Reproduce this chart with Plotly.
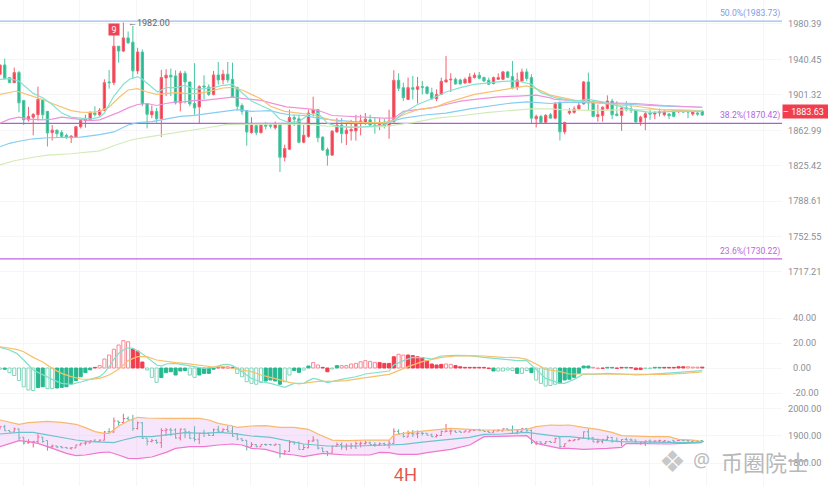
import math
import plotly.graph_objects as go

# ---- candles (prices)
body_top = [1934.3,1934.3,1920.3,1925.8,1925.8,1895.2,1877.9,1880.1,1896.3,1895.6,1883.4,1863.1,1863.1,1860.5,1857.6,1856.8,1866.8,1873.4,1874.9,1882.3,
1881.5,1884.5,1914.7,1915.5,1955.3,1955.3,1964.6,1964.6,1959.8,1948.7,1948.7,1891.9,1883.4,1883.4,1920.3,1922.9,1922.9,1922.1,1925.1,1925.1,
1915.5,1891.9,1910.3,1911.1,1910.0,1923.2,1923.2,1924.0,1924.0,1918.4,1909.2,1889.7,1884.1,1868.6,1867.9,1868.6,1868.6,1868.6,1869.4,1868.6,
1843.5,1876.7,1876.7,1875.3,1857.6,1881.5,1885.2,1885.2,1855.7,1842.4,1862.0,1868.6,1868.6,1863.1,1863.8,1872.3,1873.0,1874.9,1874.2,1868.6,
1871.6,1871.6,1873.0,1917.3,1917.3,1909.2,1909.2,1909.2,1910.3,1910.3,1910.0,1903.7,1901.8,1916.2,1917.7,1918.4,1918.4,1917.7,1918.4,1921.0,
1922.9,1922.9,1920.3,1917.3,1920.3,1920.3,1926.6,1926.6,1921.4,1917.7,1926.6,1926.6,1920.3,1877.9,1877.9,1879.0,1879.7,1891.5,1892.6,1871.2,
1883.4,1886.0,1890.0,1915.5,1915.5,1893.4,1879.7,1887.8,1894.5,1894.5,1880.4,1887.1,1887.1,1886.0,1885.2,1877.1,1880.8,1881.6,1881.6,1882.7,
1882.7,1880.4,1884.1,1884.1,1884.1,1883.4,1882.7,1881.6,1883.4]
body_bot = [1924.0,1919.2,1914.7,1914.7,1892.6,1874.2,1874.2,1877.1,1879.7,1879.7,1860.1,1860.5,1859.4,1856.4,1855.0,1855.0,1855.7,1866.8,1873.4,1874.2,
1880.1,1879.7,1884.5,1914.7,1914.7,1949.8,1949.8,1959.0,1927.7,1927.7,1891.5,1880.1,1879.7,1875.3,1875.3,1919.9,1921.0,1892.6,1892.6,1915.5,
1891.5,1887.1,1888.2,1910.0,1901.8,1901.8,1917.7,1917.7,1917.7,1898.9,1888.9,1883.4,1861.2,1860.5,1860.5,1860.5,1867.5,1867.5,1865.7,1834.3,
1834.3,1842.8,1874.9,1850.2,1850.2,1856.4,1881.5,1855.0,1842.0,1836.5,1836.5,1861.2,1859.4,1859.4,1862.3,1862.3,1870.5,1871.2,1868.6,1867.5,
1867.5,1867.9,1867.9,1872.3,1908.5,1898.2,1896.3,1907.4,1907.4,1909.6,1902.9,1897.0,1897.0,1901.8,1915.5,1917.7,1913.3,1913.3,1914.4,1914.7,
1920.3,1919.6,1916.6,1912.9,1913.6,1918.4,1918.4,1920.6,1909.2,1910.0,1916.6,1919.2,1876.0,1875.3,1871.6,1871.6,1876.0,1876.0,1861.3,1861.3,
1881.6,1882.3,1886.0,1891.5,1892.6,1877.9,1877.9,1879.0,1886.4,1879.7,1879.0,1879.0,1885.2,1884.5,1872.0,1872.0,1876.8,1880.4,1880.4,1881.6,
1879.7,1878.6,1877.9,1883.0,1882.7,1882.7,1880.4,1880.4,1879.3]
wick_high = [1934.3,1941.3,1920.3,1931.4,1927.7,1895.2,1888.2,1881.5,1910.3,1896.3,1883.4,1868.6,1863.8,1863.1,1859.4,1857.6,1867.5,1874.2,1879.7,1883.4,
1888.9,1887.1,1918.4,1928.8,1968.3,1955.3,1982.0,1971.9,1978.2,1953.5,1951.7,1891.9,1889.7,1887.1,1928.8,1929.5,1930.2,1928.4,1927.7,1927.7,
1915.5,1936.2,1911.8,1922.9,1912.9,1927.7,1937.6,1928.8,1937.6,1936.9,1910.3,1891.9,1884.1,1877.1,1870.5,1868.6,1871.6,1870.5,1872.3,1870.5,
1847.6,1885.2,1879.7,1879.7,1868.6,1885.2,1899.3,1886.0,1856.4,1844.6,1863.1,1876.0,1876.0,1872.3,1874.2,1879.7,1879.7,1881.5,1879.7,1876.7,
1876.0,1875.3,1885.2,1928.4,1925.1,1914.7,1920.3,1922.1,1921.0,1916.6,1911.1,1909.2,1907.4,1920.3,1944.3,1925.1,1920.3,1919.2,1920.3,1925.1,
1925.8,1926.5,1921.4,1920.3,1921.4,1925.1,1927.7,1927.7,1938.7,1925.8,1930.2,1930.2,1924.0,1879.7,1879.7,1880.4,1881.6,1893.4,1894.5,1872.3,
1887.1,1888.9,1892.6,1916.6,1925.8,1895.6,1890.8,1888.9,1900.7,1897.1,1894.5,1887.8,1894.5,1890.8,1886.0,1878.6,1883.4,1887.1,1883.4,1886.4,
1885.2,1881.6,1885.2,1886.0,1885.2,1885.2,1883.4,1883.4,1885.2]
wick_low = [1924.0,1918.4,1914.7,1914.7,1882.3,1868.6,1872.3,1857.6,1873.4,1874.9,1845.7,1852.0,1855.0,1855.0,1853.9,1849.4,1855.0,1864.9,1865.7,1873.4,
1877.9,1877.9,1883.4,1908.1,1911.8,1936.9,1948.7,1957.9,1919.2,1924.0,1888.9,1864.9,1876.0,1871.2,1855.7,1900.0,1900.0,1890.8,1883.4,1891.9,
1888.9,1879.7,1870.5,1896.3,1900.0,1900.7,1912.5,1912.9,1914.7,1897.8,1884.1,1879.7,1846.5,1859.4,1857.6,1859.4,1863.8,1864.9,1863.8,1818.8,
1829.9,1842.0,1867.5,1849.1,1849.1,1855.0,1877.9,1850.2,1840.9,1825.5,1836.5,1860.5,1849.1,1847.2,1852.0,1852.0,1857.6,1868.6,1867.5,1859.4,
1863.1,1864.9,1853.9,1871.2,1905.5,1894.5,1895.6,1896.3,1891.9,1901.8,1901.8,1895.6,1894.5,1901.1,1914.7,1904.4,1912.5,1912.5,1913.6,1914.0,
1919.2,1918.4,1915.5,1912.2,1912.9,1917.7,1917.7,1919.6,1907.4,1906.6,1915.5,1916.6,1870.5,1866.0,1870.5,1870.5,1876.0,1874.9,1852.0,1858.7,
1879.7,1880.8,1885.2,1890.8,1884.5,1877.1,1872.3,1872.3,1885.2,1874.9,1877.9,1862.4,1883.4,1881.6,1871.2,1867.9,1863.1,1874.2,1874.9,1877.9,
1877.9,1874.9,1877.1,1881.6,1881.6,1876.0,1878.6,1878.6,1878.6]
candle_dir = ("RGGRGGRRRGGRGGGRRRRRGRRGRGRGGRGGRGRRGGRGGGRGGRGRGGGGGRGRGGRG"
              "RRGGRRRGGGRRGRRRRRGGRGRRGGRGRGGGRRRRGGRRRGGGRRRGGRRGGRGR"
              "GRGRRRRRGGRRRGGRGGGRRGRRRGGRGGRGGRGGGRGR")

# ---- main pane averages
ma_teal_i = [0,2,4,5,7,9,11,13,15,17,19,21,22,24,26,27.3,29,30,32,33.2,35,37,39,41,43,45,47,49,51,53,55,57,59,61,63,65,67,69,71,74,77,81,83,85,88,91,94,97,100,103,106,109,112,114,117,121,124,127,131,134,137,142,148]
ma_teal = [1918.4,1919.2,1916.6,1911.8,1902.9,1898.1,1890.8,1881.5,1877.1,1876,1874.9,1877.1,1881.5,1900,1912.9,1918.4,1921.4,1918.4,1909.2,1904.4,1909.2,1909.2,1911.8,1907.4,1908.1,1909.2,1911.8,1912.9,1903.7,1894.5,1889.7,1885.2,1874.9,1871.2,1872.3,1879.7,1881.5,1870.5,1867.5,1866,1866.8,1868.6,1873.4,1881.5,1890.8,1897,1904.4,1909.2,1912.9,1914.8,1916.2,1916.6,1912.9,1903.7,1898.2,1894.5,1896.3,1893.7,1888.9,1884.5,1882.3,1883.4,1883.4]
ma_orange_i = [0,2,3.5,5,7,9,11,13,15,17,19,21,23,25,27,29,31,33,35,37,39,41,43,45,47,49,51,53,55,57,60,63,66,69,72,75,78,81,83,85,88,92,94,97,100,103,107,111,113,116,121,125,129,134,139,143,148]
ma_orange = [1901.8,1904.4,1905.5,1902.9,1900,1896.3,1891.9,1888.2,1884.1,1882.6,1882.3,1883.4,1888.2,1898.1,1906.6,1908.1,1904.4,1901.8,1902.9,1903.7,1902.9,1902.6,1903.7,1905.9,1908.8,1909.6,1906.6,1901.8,1897,1888.9,1883.4,1881.5,1879.7,1874.9,1871.6,1871.2,1871.2,1871.2,1874.2,1879.7,1885.2,1888.2,1892.6,1897.4,1901.8,1904.4,1908.1,1911.1,1908.1,1901,1895.6,1893.4,1890.8,1888.9,1885.2,1884.5,1883.4]
ma_pink_i = [0,2,4,6,9,11,13,15,17,19,21,23,25,27,29,31,33,35,37,39,41,43,45,47,49,51,53,55,57,60.4,65,67,70,73,77,81,83,85,88,91,94,97,101,105,109,113,116,117,123,128,134,140,148]
ma_pink = [1870.5,1874.9,1877.1,1874.9,1874.2,1874.9,1877.1,1876,1874.2,1873.4,1874.2,1877.9,1882.3,1887.1,1890.8,1891.9,1889.7,1891.9,1893.7,1893.7,1895.2,1895.2,1896.3,1898.1,1898.9,1897.4,1896.3,1895.2,1892.6,1888.2,1886,1884.5,1878.9,1877.9,1877.1,1876,1876,1883.4,1885.2,1887.1,1890.8,1894.5,1897,1899.2,1900,1901.1,1898,1896.3,1894.5,1892.6,1891.9,1889.7,1887.8]
ma_blue_i = [0,2,4,7,10,13,17,21,24,27,29,32,35,38,41,44,47,50,53,57,59,61,64,67,70,73,77,81,83,85,90,94,99,103,107,111,116,119,126,133,140,148]
ma_blue = [1845.4,1849.1,1851.3,1853.9,1855,1855,1855.7,1858.3,1861.2,1868.6,1871.2,1872.3,1874.9,1877.9,1879,1880.8,1883,1885.2,1883.4,1884.1,1881.5,1879.7,1878.9,1876,1874.2,1873,1871.2,1870.5,1873.4,1876,1879.7,1881.5,1886,1888.9,1891.9,1893.7,1891.9,1893.3,1892.6,1890.8,1889,1887.8]
ma_green_i = [0,3,7,10,15,21,25,28,32,36,41,45,48,53,59,64,69,75,81,83,87,92,97,103,108,112,116,118,124,131,137,143,148]
ma_green = [1826.2,1830.6,1834.3,1836.5,1838,1841,1848.3,1853.1,1856.4,1859.4,1863.1,1866.8,1869.4,1869.7,1869.7,1869.7,1867.5,1866,1866.8,1868.6,1871.2,1876,1878.6,1882.3,1884.5,1886,1886,1885.2,1884.5,1885.2,1885.2,1885.2,1884.1]

# ---- MACD pane
macd_hist = [-1,-1,-3.7,-6,-10,-15,-17.6,-18,-15.7,-15,-16.5,-16.5,-16,-15.5,-15,-12.8,-10,-7,-3.7,-1.5,
0.5,1.9,7.2,10.4,15,18.4,21.9,21,15.2,13.6,4.8,-1.6,-7.5,-11.5,-7.7,-3.7,-3,-5.6,-2.4,-2,
-5.6,-7.5,-5.6,-4.3,-4.3,-1,0.4,0.4,0.8,0.5,-4.3,-7,-11,-12.3,-13,-11.5,-10.4,-9.6,-10.4,-13,
-11,-5.6,-2,-3.5,-1.6,1.6,4.3,2.4,0.5,-3,-0.8,1.9,1.9,1.9,3.2,3.7,5,5.9,5.3,4.5,
4.3,3.7,3.7,9,11,10.4,10.4,9.9,9,8.3,5.9,3.2,2.4,2.9,3.2,2.9,1.9,1,0.5,0.5,
0.5,0.5,0.5,-0.5,-2.4,-2.4,-2.4,-1.6,-2,-4.3,-4.3,-2,-3.7,-9.6,-12.3,-14.4,-14,-13,-12.3,-9.6,
-9,-7.5,-4.3,1.6,1.6,0.5,-0.5,-0.3,0.5,0.5,-0.3,0.5,0.5,0.3,-1.3,-1.3,-0.5,-0.5,0.5,0.5,
0.5,0.5,0.5,1,1,1,0.7,0.7,0.7]
# G/R solid, g/r hollow
macd_style = ("gGggggggGGggGGGGGGGG"
              "RrrrrrrrRRRgggGGGGGG"
              "ggGGGGRRRRggggggGGGGg"
              "gGGgGrrRRgGrrrrrrrrRR"
              "RRrrRRRRRRRRrrRRRRRR"
              "RRGggggGggGgggggGGG"
              "GGGGrrRGGRRGRRRggGGRR"
              "RRRrrrRRR")
dif_i = [0,2,3.5,5,7,9,11,13,15,17,19,21,22,23,24,25,26,27,28,29.5,31,33,34,35,37,39,41,43,45,47,48,49,51,53,55,57,59,60,62,64,65,66,67,69,72,75,77,80,82,83,85,87,89,91,93,96,99,102,106,109,111,113,115,118,119,121,123,125,128,131,134,137,140,143,146,148]
dif = [16.5,14.4,11.7,6.4,-1.6,-5.6,-9.1,-12.3,-13.1,-11.2,-9.1,-6.9,-3.7,1.1,6.9,11.7,14.4,16,15.7,12.5,8.5,2.4,1.6,3.2,3.7,2.4,0.5,-0.3,0.5,2.7,2.9,1.9,-2.9,-8.3,-11,-12.3,-14.4,-15.5,-12.3,-12.3,-10.1,-8.3,-9.1,-11.7,-9.1,-7,-4.8,-3.5,-2.4,2.4,5.9,8.5,8.3,7.2,9.6,10.1,9.9,8.5,6.9,5.9,5.9,-1.6,-8.3,-12.3,-12.3,-9.1,-4.8,-5.1,-4.3,-4.8,-5.6,-5.1,-4.3,-3.5,-2.4,-2.1]
dea_i = [0,2,3.5,5,7,9,11,13,15,17,19,21,23,25,27,29,31,33,35,37,39,41,43,45,47,49,51,53,55,57,59,61,63,65,67,70,73,76,79,82,84,86,89,91,93,96,99,102,106,109,111,113,115,118,120,123,128,134,140,144,148]
dea = [17,15.7,14.9,13,8.5,4.8,-0.3,-4.3,-6.9,-8.8,-9.1,-8.3,-5.6,-1.1,5.9,9.1,9.1,6.4,5.1,4.3,3.7,2.7,1.6,0.8,1.1,0,-1.6,-2.9,-5.6,-7.5,-9.6,-11.5,-12.8,-11.5,-10.7,-10.7,-10.1,-8.3,-6.4,-5.1,-2.1,1.1,5.1,6.9,8.5,9.6,9.9,9.6,8.5,8.3,6.9,3.2,-1.1,-2.9,-4.8,-4.8,-4.8,-4.8,-5.1,-4.3,-3.2]

# ---- Bollinger pane
upper_i = [0,2,4,6,10,13,16,18,20,22,23,25,27,29,31,35,39,42,44,46,49,50,53,56,59,62,65,67,70,73,77,82,83,86,90,95,99,102,106,111,113,116,118,120,123,126,129,131,137,141,143,146,148]
upper = [1959.2,1951.8,1943.2,1949.3,1954.3,1950.6,1943.2,1930.8,1916,1909.8,1909.8,1937,1955.5,1969.1,1966.6,1965.4,1965.4,1965.4,1959.2,1946.9,1937,1932,1937,1938.2,1932,1932,1924.6,1907.4,1885,1882.7,1885,1885,1903.7,1912.3,1919.7,1928.4,1924.6,1922.2,1922.2,1924.6,1934.5,1940.7,1939.5,1940.7,1932,1924.6,1913.5,1901.2,1897.5,1897.5,1887.6,1885.1,1879]
lower_i = [0,2,4,6,8,10,12,14,16,18,21,23,25,27,29,32,35,37,40,43,46,49,51,53,56,59,62,64,68,73,78,80,82,84,88,90,95,99,102,106,111,113,118,120,123,128,131,132,137,141,144,148]
lower = [1860.5,1872.8,1882.7,1879,1872.8,1860.5,1848.1,1835.8,1827.1,1829.6,1838.2,1840.7,1829.6,1817.2,1816,1822.2,1839.5,1854.3,1860.5,1860.5,1866.6,1870.3,1866.6,1854.3,1850.6,1835.8,1829.6,1823.4,1835.8,1829.6,1829.6,1839.5,1838.2,1832,1832,1838.2,1850.6,1866.6,1897.5,1898.7,1901.2,1872.8,1854.3,1854.3,1850.6,1854.3,1858,1872.8,1870.3,1870.3,1872.8,1875.3]
mid_i = [0,4,7,10,13,16,19,22,24,26,29,32,35,39,43,46,49,53,57,59,64,69,75,82,85,90,95,99,102,106,111,115,118,120,123,128,131,137,144,148]
mid = [1907.4,1913.5,1913.5,1903.7,1895,1885.1,1879,1875.3,1875.3,1885.1,1897.5,1897.5,1903.7,1912.3,1909.8,1913.5,1909.8,1900,1895,1887.6,1870.3,1862.9,1862.9,1866.6,1869.1,1879,1887.6,1895,1906,1907.4,1913.5,1903.7,1897.5,1897.5,1891.3,1882.7,1879,1876.5,1875.3,1876.5]

# ---- levels and tick labels
fib_levels = [1983.73, 1870.42, 1730.22]
fib_names = ["50.0%(1983.73)", "38.2%(1870.42)", "23.6%(1730.22)"]
fib_colors = ["#9dbdf0", "#b05cd8", "#c064e0"]
fib_text_colors = ["#7f9be8", "#b066e0", "#bb66dd"]
main_ticks = [1980.39, 1940.45, 1901.32, 1862.99, 1825.42, 1788.61, 1752.55, 1717.21]
macd_ticks = [40, 20, 0, -20]
boll_ticks = [2000, 1900, 1800]
last_price = 1883.63
peak_price = 1982.00

W, H = 828, 486
PLOT_R = 782
RED, GREEN = "#f23d4f", "#26b98f"
PALE_RED, PALE_GREEN = "#f58a95", "#7fd6bb"
GRID = "#f6f6f8"
TICK = "#8a8f98"
FONT = "Roboto, sans-serif"
n = len(body_top)
xs = list(range(n))
opens = [b if d == "R" else t for t, b, d in zip(body_top, body_bot, candle_dir)]
closes = [t if d == "R" else b for t, b, d in zip(body_top, body_bot, candle_dir)]
X_MAX = PLOT_R / 4.745

fig = go.Figure()

# Bollinger
fig.add_trace(go.Scatter(x=upper_i, y=upper, yaxis="y3", mode="lines", line=dict(color="#f7b96a", width=1.2), showlegend=False))
fig.add_trace(go.Scatter(x=lower_i, y=lower, yaxis="y3", mode="lines", line=dict(color="#ee78cf", width=1.2),
                         fill="tonexty", fillcolor="rgba(222,150,240,0.24)", showlegend=False))
fig.add_trace(go.Scatter(x=mid_i, y=mid, yaxis="y3", mode="lines", line=dict(color="#6cc3cf", width=1.2), showlegend=False))
fig.add_trace(go.Ohlc(x=xs, open=opens, high=wick_high, low=wick_low, close=closes, yaxis="y3",
                      increasing=dict(line=dict(color="#f0607c", width=1)),
                      decreasing=dict(line=dict(color="#55b8a4", width=1)),
                      tickwidth=0.35, showlegend=False))

# MACD bars
def bars(style, fill, outline):
    idx = [i for i in xs if macd_style[i] == style]
    fig.add_trace(go.Bar(x=idx, y=[macd_hist[i] for i in idx], yaxis="y2", width=0.66,
                         marker=dict(color=fill, line=dict(color=outline, width=1)), showlegend=False))
bars("G", GREEN, GREEN)
bars("g", "#ffffff", PALE_GREEN)
bars("R", RED, RED)
bars("r", "#ffffff", PALE_RED)
fig.add_trace(go.Scatter(x=dif_i, y=dif, yaxis="y2", mode="lines", line=dict(color="#7fe0cc", width=1.2), showlegend=False))
fig.add_trace(go.Scatter(x=dea_i, y=dea, yaxis="y2", mode="lines", line=dict(color="#f7c06a", width=1.2), showlegend=False))

# Fib levels
for lvl, col in zip(fib_levels, fib_colors):
    fig.add_trace(go.Scatter(x=[0, X_MAX], y=[lvl, lvl], yaxis="y", mode="lines", line=dict(color=col, width=1.2), showlegend=False))

# Moving averages
for xi, yi, col in [(ma_green_i, ma_green, "#d3ebb8"), (ma_blue_i, ma_blue, "#86cdf2"), (ma_pink_i, ma_pink, "#f092dc"),
                    (ma_orange_i, ma_orange, "#f8c273"), (ma_teal_i, ma_teal, "#84e2cf")]:
    fig.add_trace(go.Scatter(x=xi, y=yi, yaxis="y", mode="lines", line=dict(color=col, width=1.2), showlegend=False))

# Candles
fig.add_trace(go.Candlestick(x=xs, open=opens, high=wick_high, low=wick_low, close=closes, yaxis="y",
                             increasing=dict(line=dict(color="#f4606f", width=1), fillcolor=RED),
                             decreasing=dict(line=dict(color="#4cc6a2", width=1), fillcolor=GREEN),
                             showlegend=False))

def dom(top, bot):
    return [1 - bot / H, 1 - top / H]

grid = dict(showgrid=True, gridcolor=GRID, gridwidth=1, zeroline=False, side="right", anchor="x",
            ticks="", showline=False, tickfont=dict(family=FONT, size=9.2, color=TICK))

fig.update_layout(
    width=W, height=H, margin=dict(l=0, r=0, t=0, b=0), paper_bgcolor="white", plot_bgcolor="white",
    barmode="overlay", showlegend=False,
    xaxis=dict(domain=[0, PLOT_R / W], range=[0, X_MAX], rangeslider=dict(visible=False), showticklabels=False,
               showgrid=True, gridcolor=GRID, zeroline=False, ticks="", tick0=4.85, dtick=12.0),
    yaxis=dict(grid, domain=dom(0, 305), type="log", range=[3.22658, 3.30274],
               tickvals=main_ticks, ticktext=[f"{t:.2f}" for t in main_ticks], ticklabelstandoff=5),
    yaxis2=dict(grid, domain=dom(305, 403), range=[-28, 50.4],
                tickvals=macd_ticks, ticktext=[f"{t:.2f}" for t in macd_ticks], ticklabelstandoff=10),
    yaxis3=dict(grid, domain=dom(403, 486), range=[1715, 2022],
                tickvals=boll_ticks, ticktext=[f"{t:.2f}" for t in boll_ticks], ticklabelstandoff=5),
)

ann = []
for lvl, name, col in zip(fib_levels, fib_names, fib_text_colors):
    ann.append(dict(x=PLOT_R / W, xref="paper", xanchor="right", y=math.log10(lvl), yref="y", yanchor="bottom", yshift=0,
                    text=name, showarrow=False, font=dict(family=FONT, size=8.6, color=col)))
ann.append(dict(x=PLOT_R / W, xref="paper", xanchor="left", y=math.log10(last_price), yref="y", yanchor="middle",
                text=f"– {last_price:.2f}", showarrow=False, bgcolor=RED, width=46, height=13, align="left", borderpad=0,
                font=dict(family=FONT, size=9, color="white")))
ann.append(dict(x=24, xref="x", xanchor="center", y=math.log10(peak_price), yref="y", yanchor="top", text="9", showarrow=False, bgcolor="#ee4455",
                width=10, height=11, borderpad=0, font=dict(family=FONT, size=9, color="white")))
ann.append(dict(x=26, xref="x", xanchor="left", xshift=3, y=math.log10(peak_price), yref="y", yanchor="middle",
                text=f"←{peak_price:.2f}", showarrow=False, font=dict(family=FONT, size=9, color="#666666")))
ann.append(dict(x=405 / W, xref="paper", xanchor="center", y=1 - 475 / H, yref="paper", yanchor="middle", text="4H", showarrow=False,
                font=dict(family="Liberation Sans", size=18, color="#e2574c")))
ann.append(dict(x=672 / W, xref="paper", xanchor="center", y=1 - 461 / H, yref="paper", yanchor="middle", text="❖", showarrow=False,
                font=dict(family="DejaVu Sans", size=30, color="#c8c8c8")))
ann.append(dict(x=701 / W, xref="paper", xanchor="center", y=1 - 460 / H, yref="paper", yanchor="middle", text="@", showarrow=False,
                font=dict(family="Noto Sans", size=19, color="#bcbcbc")))
ann.append(dict(x=765 / W, xref="paper", xanchor="center", y=1 - 461 / H, yref="paper", yanchor="middle", text="币圈院士", showarrow=False,
                font=dict(family="Noto Sans CJK SC", size=22, color="#b8b8b8")))
fig.update_layout(annotations=ann)

fig.write_html("out.html", config=dict(displayModeBar=False), post_script="document.body.style.margin='0';")
